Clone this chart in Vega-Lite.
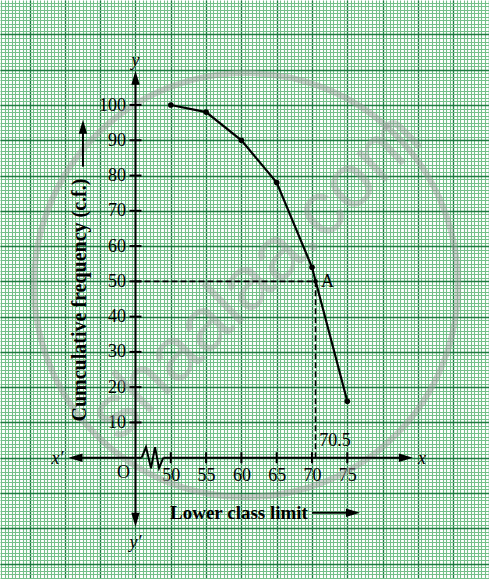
{
  "$schema": "https://vega.github.io/schema/vega-lite/v6.json",
  "width": 489,
  "height": 579,
  "autosize": {"type": "none"},
  "padding": 0,
  "background": "white",
  "config": {"view": {"stroke": null}},
  "datasets": {
    "pts": [
      {"x": 50, "y": 100}, {"x": 55, "y": 98}, {"x": 60, "y": 90},
      {"x": 65, "y": 78}, {"x": 70, "y": 54}, {"x": 75, "y": 16}
    ],
    "ptA": [{"x": 70.5, "y": 50}],
    "wmCircle": [{"x": 60.65, "y": 48.97}],
    "wmText": [{"x": 62.07, "y": 51.5, "t": "shaalaa.com"}],
    "axisSegs": [
      {"x": 36.5, "x2": 45.88, "y": 0, "y2": 0},
      {"x": 48.94, "x2": 83.3, "y": 0, "y2": 0},
      {"x": 45, "x2": 45, "y": -17.6, "y2": 107.7}
    ],
    "zigzag": [
      {"x": 45.88, "y": 0}, {"x": 46.49, "y": 3}, {"x": 47.2, "y": -3},
      {"x": 47.77, "y": 3}, {"x": 48.33, "y": -3}, {"x": 48.94, "y": 0}
    ],
    "xticks": [{"x": 50, "y": 0}, {"x": 55, "y": 0}, {"x": 60, "y": 0}, {"x": 65, "y": 0}, {"x": 70, "y": 0}, {"x": 75, "y": 0}],
    "yticks": [
      {"x": 45, "y": 10}, {"x": 45, "y": 20}, {"x": 45, "y": 30}, {"x": 45, "y": 40}, {"x": 45, "y": 50},
      {"x": 45, "y": 60}, {"x": 45, "y": 70}, {"x": 45, "y": 80}, {"x": 45, "y": 90}, {"x": 45, "y": 100}
    ],
    "dashed": [
      {"x": 45, "x2": 70.5, "y": 50, "y2": 50},
      {"x": 70.5, "x2": 70.5, "y": 50, "y2": 0}
    ],
    "pointers": [
      {"x": 70.0, "x2": 76.0, "y": -15.6, "y2": -15.6},
      {"x": 37.56, "x2": 37.56, "y": 82.5, "y2": 94.5}
    ],
    "arrows": [
      {"x": 36.5, "y": 0, "dir": "left"},
      {"x": 83.3, "y": 0, "dir": "right"},
      {"x": 45, "y": 107.7, "dir": "up"},
      {"x": 45, "y": -17.6, "dir": "down"},
      {"x": 75.8, "y": -15.6, "dir": "right"},
      {"x": 37.56, "y": 93.8, "dir": "up"}
    ],
    "plainText": [
      {"x": 43.3, "y": -4.3, "t": "O"},
      {"x": 73.26, "y": 4.73, "t": "70.5"},
      {"x": 72.2, "y": 49.8, "t": "A"}
    ],
    "italicText": [
      {"x": 33.95, "y": -0.37, "t": "x′"},
      {"x": 85.58, "y": -0.4, "t": "x"},
      {"x": 45, "y": 112.5, "t": "y"},
      {"x": 45, "y": -24.2, "t": "y′"}
    ],
    "xTitle": [{"x": 59.66, "y": -15.7, "t": "Lower class limit"}],
    "yTitle": [{"x": 37.14, "y": 44.7, "t": "Cumculative frequency (c.f.)"}]
  },
  "resolve": {"axis": {"x": "independent", "y": "independent"}},
  "layer": [
    {
      "data": {"name": "wmCircle"},
      "mark": {"type": "point", "shape": "circle", "filled": false, "stroke": "#9a9a9a", "strokeWidth": 6, "opacity": 0.45},
      "encoding": {
        "x": {"field": "x", "type": "quantitative", "scale": {"domain": [25.81, 95.07], "nice": false, "zero": false},
          "axis": {"orient": "bottom", "grid": true, "gridColor": "#74bf89", "gridWidth": 1.1, "tickCount": 139, "labels": false, "ticks": false, "domain": false, "title": null}},
        "y": {"field": "y", "type": "quantitative", "scale": {"domain": [-34.39, 129.77], "nice": false, "zero": false},
          "axis": {"orient": "left", "grid": true, "gridColor": "#74bf89", "gridWidth": 1.1, "tickCount": 165, "labels": false, "ticks": false, "domain": false, "title": null}},
        "size": {"value": 179776}
      }
    },
    {
      "data": {"name": "wmText"},
      "mark": {"type": "text", "font": "Liberation Sans", "fontSize": 76, "angle": 315.5, "align": "center", "baseline": "middle", "fill": "#999999", "opacity": 0.4},
      "encoding": {
        "x": {"field": "x", "type": "quantitative", "scale": {"domain": [25.81, 95.07], "nice": false, "zero": false},
          "axis": {"orient": "bottom", "grid": true, "gridColor": "#1e7b40", "gridWidth": 1.3, "tickCount": 14, "labels": false, "ticks": false, "domain": false, "title": null}},
        "y": {"field": "y", "type": "quantitative", "scale": {"domain": [-34.39, 129.77], "nice": false, "zero": false},
          "axis": {"orient": "left", "grid": true, "gridColor": "#1e7b40", "gridWidth": 1.3, "tickCount": 16, "labels": false, "ticks": false, "domain": false, "title": null}},
        "text": {"field": "t"}
      }
    },
    {
      "data": {"name": "axisSegs"},
      "mark": {"type": "rule", "color": "black", "strokeWidth": 2},
      "encoding": {
        "x": {"field": "x", "type": "quantitative", "scale": {"domain": [25.81, 95.07], "nice": false, "zero": false}, "axis": null},
        "x2": {"field": "x2"},
        "y": {"field": "y", "type": "quantitative", "scale": {"domain": [-34.39, 129.77], "nice": false, "zero": false}, "axis": null},
        "y2": {"field": "y2"}
      }
    },
    {
      "data": {"name": "zigzag"},
      "mark": {"type": "line", "color": "black", "strokeWidth": 2},
      "encoding": {
        "x": {"field": "x", "type": "quantitative", "scale": {"domain": [25.81, 95.07], "nice": false, "zero": false}, "axis": null},
        "y": {"field": "y", "type": "quantitative", "scale": {"domain": [-34.39, 129.77], "nice": false, "zero": false}, "axis": null}
      }
    },
    {
      "data": {"name": "xticks"},
      "mark": {"type": "tick", "orient": "vertical", "size": 11, "thickness": 2, "color": "black", "opacity": 1},
      "encoding": {
        "x": {"field": "x", "type": "quantitative", "scale": {"domain": [25.81, 95.07], "nice": false, "zero": false}, "axis": null},
        "y": {"field": "y", "type": "quantitative", "scale": {"domain": [-34.39, 129.77], "nice": false, "zero": false}, "axis": null}
      }
    },
    {
      "data": {"name": "yticks"},
      "mark": {"type": "tick", "orient": "horizontal", "size": 12, "thickness": 2, "color": "black", "opacity": 1},
      "encoding": {
        "x": {"field": "x", "type": "quantitative", "scale": {"domain": [25.81, 95.07], "nice": false, "zero": false}, "axis": null},
        "y": {"field": "y", "type": "quantitative", "scale": {"domain": [-34.39, 129.77], "nice": false, "zero": false}, "axis": null}
      }
    },
    {
      "data": {"name": "dashed"},
      "mark": {"type": "rule", "color": "black", "strokeWidth": 1.6, "strokeDash": [6, 3]},
      "encoding": {
        "x": {"field": "x", "type": "quantitative", "scale": {"domain": [25.81, 95.07], "nice": false, "zero": false}, "axis": null},
        "x2": {"field": "x2"},
        "y": {"field": "y", "type": "quantitative", "scale": {"domain": [-34.39, 129.77], "nice": false, "zero": false}, "axis": null},
        "y2": {"field": "y2"}
      }
    },
    {
      "data": {"name": "pointers"},
      "mark": {"type": "rule", "color": "black", "strokeWidth": 2},
      "encoding": {
        "x": {"field": "x", "type": "quantitative", "scale": {"domain": [25.81, 95.07], "nice": false, "zero": false}, "axis": null},
        "x2": {"field": "x2"},
        "y": {"field": "y", "type": "quantitative", "scale": {"domain": [-34.39, 129.77], "nice": false, "zero": false}, "axis": null},
        "y2": {"field": "y2"}
      }
    },
    {
      "data": {"name": "arrows"},
      "mark": {"type": "point", "filled": true, "color": "black", "opacity": 1, "size": 196},
      "encoding": {
        "x": {"field": "x", "type": "quantitative", "scale": {"domain": [25.81, 95.07], "nice": false, "zero": false}, "axis": null},
        "y": {"field": "y", "type": "quantitative", "scale": {"domain": [-34.39, 129.77], "nice": false, "zero": false}, "axis": null},
        "shape": {"field": "dir", "type": "nominal", "legend": null,
          "scale": {"domain": ["left", "right", "up", "down"],
            "range": ["M -1 0 L 1 -0.6 L 1 0.6 Z", "M 1 0 L -1 -0.6 L -1 0.6 Z", "M 0 -1 L -0.6 1 L 0.6 1 Z", "M 0 1 L -0.6 -1 L 0.6 -1 Z"]}}
      }
    },
    {
      "data": {"name": "pts"},
      "mark": {"type": "line", "color": "black", "strokeWidth": 2.2, "interpolate": "linear"},
      "encoding": {
        "x": {"field": "x", "type": "quantitative", "scale": {"domain": [25.81, 95.07], "nice": false, "zero": false},
          "axis": {"orient": "bottom", "offset": -121.3, "values": [50, 55, 60, 65, 70, 75], "grid": false, "ticks": false, "domain": false, "labels": true,
            "labelFont": "Liberation Serif", "labelFontSize": 18, "labelColor": "black", "labelPadding": 9, "labelFlush": false, "labelOverlap": false, "title": null}},
        "y": {"field": "y", "type": "quantitative", "scale": {"domain": [-34.39, 129.77], "nice": false, "zero": false},
          "axis": {"orient": "left", "offset": -135.5, "values": [10, 20, 30, 40, 50, 60, 70, 80, 90, 100], "grid": false, "ticks": false, "domain": false, "labels": true,
            "labelFont": "Liberation Serif", "labelFontSize": 18, "labelColor": "black", "labelPadding": 10, "labelFlush": false, "labelOverlap": false, "title": null}}
      }
    },
    {
      "data": {"name": "pts"},
      "mark": {"type": "point", "shape": "circle", "filled": true, "color": "black", "opacity": 1, "size": 32},
      "encoding": {
        "x": {"field": "x", "type": "quantitative", "scale": {"domain": [25.81, 95.07], "nice": false, "zero": false}, "axis": null},
        "y": {"field": "y", "type": "quantitative", "scale": {"domain": [-34.39, 129.77], "nice": false, "zero": false}, "axis": null}
      }
    },
    {
      "data": {"name": "ptA"},
      "mark": {"type": "point", "shape": "circle", "filled": true, "color": "black", "opacity": 1, "size": 22},
      "encoding": {
        "x": {"field": "x", "type": "quantitative", "scale": {"domain": [25.81, 95.07], "nice": false, "zero": false}, "axis": null},
        "y": {"field": "y", "type": "quantitative", "scale": {"domain": [-34.39, 129.77], "nice": false, "zero": false}, "axis": null}
      }
    },
    {
      "data": {"name": "plainText"},
      "mark": {"type": "text", "font": "Liberation Serif", "fontSize": 18, "align": "center", "baseline": "middle", "color": "black"},
      "encoding": {
        "x": {"field": "x", "type": "quantitative", "scale": {"domain": [25.81, 95.07], "nice": false, "zero": false}, "axis": null},
        "y": {"field": "y", "type": "quantitative", "scale": {"domain": [-34.39, 129.77], "nice": false, "zero": false}, "axis": null},
        "text": {"field": "t"}
      }
    },
    {
      "data": {"name": "italicText"},
      "mark": {"type": "text", "font": "Liberation Serif", "fontSize": 18, "fontStyle": "italic", "align": "center", "baseline": "middle", "color": "black"},
      "encoding": {
        "x": {"field": "x", "type": "quantitative", "scale": {"domain": [25.81, 95.07], "nice": false, "zero": false}, "axis": null},
        "y": {"field": "y", "type": "quantitative", "scale": {"domain": [-34.39, 129.77], "nice": false, "zero": false}, "axis": null},
        "text": {"field": "t"}
      }
    },
    {
      "data": {"name": "xTitle"},
      "mark": {"type": "text", "font": "Liberation Serif", "fontSize": 19, "fontWeight": "bold", "align": "center", "baseline": "middle", "color": "black"},
      "encoding": {
        "x": {"field": "x", "type": "quantitative", "scale": {"domain": [25.81, 95.07], "nice": false, "zero": false}, "axis": null},
        "y": {"field": "y", "type": "quantitative", "scale": {"domain": [-34.39, 129.77], "nice": false, "zero": false}, "axis": null},
        "text": {"field": "t"}
      }
    },
    {
      "data": {"name": "yTitle"},
      "mark": {"type": "text", "font": "Liberation Serif", "fontSize": 20, "fontWeight": "bold", "angle": 270, "align": "center", "baseline": "middle", "color": "black"},
      "encoding": {
        "x": {"field": "x", "type": "quantitative", "scale": {"domain": [25.81, 95.07], "nice": false, "zero": false}, "axis": null},
        "y": {"field": "y", "type": "quantitative", "scale": {"domain": [-34.39, 129.77], "nice": false, "zero": false}, "axis": null},
        "text": {"field": "t"}
      }
    }
  ]
}
